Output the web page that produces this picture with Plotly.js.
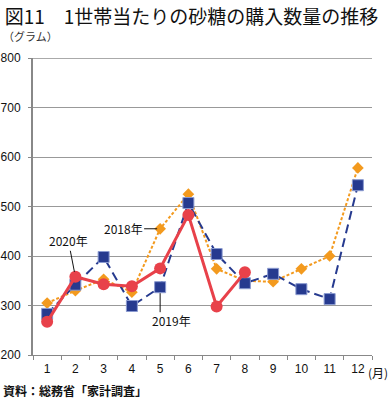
<!DOCTYPE html>
<html><head><meta charset="utf-8">
<script src="https://cdn.plot.ly/plotly-3.0.1.min.js"></script>
<style>html,body{margin:0;padding:0;background:#fff}#chart{width:390px;height:404px}</style>
</head><body><div id="chart"></div>
<script>
const months = ['1','2','3','4','5','6','7','8','9','10','11','12'];
const y2018 = [305, 330, 353, 327, 455, 525, 374, 350, 348, 374, 400, 578];
const y2019 = [283, 342, 398, 299, 337, 507, 404, 345, 364, 333, 313, 543];
const y2020 = [267, 358, 343, 339, 375, 483, 298, 367];
const yTicks = [200, 300, 400, 500, 600, 700, 800];

const JP = '"Noto Sans CJK JP", sans-serif';
const NUM = '"Liberation Sans", Arial, sans-serif';

// category index of the month where each label points
const i2018 = months.indexOf('5');
const i2019 = months.indexOf('5');
const i2020 = months.indexOf('2');

const traces = [
  {name:'2018年', x: months, y: y2018, type:'scatter', mode:'lines+markers',
   line:{color:'#f39a1e', width:2, dash:'3px,2px'},
   marker:{symbol:'diamond', size:9, color:'#f39a1e'}},
  {name:'2019年', x: months, y: y2019, type:'scatter', mode:'lines+markers',
   line:{color:'#263a8f', width:2, dash:'9px,5px'},
   marker:{symbol:'square', size:11, color:'#263a8f', line:{color:'#8a9ad0', width:1}}},
  {name:'2020年', x: months.slice(0, y2020.length), y: y2020, type:'scatter', mode:'lines+markers',
   line:{color:'#e8414a', width:3},
   marker:{symbol:'circle', size:12, color:'#e8414a'}}
];

const layout = {
  width:390, height:404,
  margin:{l:33, r:18, t:58, b:49},
  paper_bgcolor:'#fff', plot_bgcolor:'#fff',
  showlegend:false,
  title:{text:'図11　1世帯当たりの砂糖の購入数量の推移', font:{family:JP, size:19, color:'#111'},
         x:0.012, xanchor:'left', xref:'container', yref:'container', y:0.958, yanchor:'middle'},
  xaxis:{type:'category', range:[-0.5, 11.5], tickson:'boundaries', ticks:'outside', ticklen:4,
         tickcolor:'#888', showline:true, linecolor:'#888', linewidth:1, showgrid:false,
         tickfont:{family:NUM, size:12, color:'#111'}, ticklabelstandoff:3},
  yaxis:{range:[200, 800], tickvals:yTicks, ticks:'outside', ticklen:3, tickcolor:'#888',
         showline:true, linecolor:'#888', linewidth:2, showgrid:true, gridcolor:'#999', gridwidth:1,
         zeroline:false, tickfont:{family:NUM, size:12, color:'#111'}, ticklabelstandoff:5},
  annotations:[
    {xref:'paper', yref:'paper', x:-0.094, y:1.074, xanchor:'left', yanchor:'middle', showarrow:false,
     text:'（グラム）', font:{family:JP, size:11, color:'#333'}},
    {xref:'paper', yref:'paper', x:1.053, y:-0.06, xanchor:'right', yanchor:'middle', showarrow:false,
     text:'(月)', font:{family:JP, size:12, color:'#111'}},
    {xref:'paper', yref:'paper', x:-0.095, y:-0.118, xanchor:'left', yanchor:'middle', showarrow:false,
     text:'<b>資料：総務省「家計調査」</b>', font:{family:JP, size:12, color:'#111'}},
    {x: i2018, y: y2018[i2018], ax:-37, ay:0, showarrow:true, arrowhead:0, arrowwidth:1, arrowcolor:'#111',
     standoff:3, text:'2018年', font:{family:JP, size:12, color:'#111'}},
    {x: i2020, y: y2020[i2020], ax:-7, ay:-36, showarrow:true, arrowhead:0, arrowwidth:1, arrowcolor:'#111',
     standoff:5, text:'2020年', font:{family:JP, size:12, color:'#111'}},
    {x: i2019, y: y2019[i2019], xshift:11, yshift:-33, showarrow:false,
     text:'2019年', font:{family:JP, size:12, color:'#111'}}
  ],
  shapes:[
    {type:'line', xref:'x', yref:'y', xsizemode:'pixel', ysizemode:'pixel',
     xanchor: i2019, yanchor: y2019[i2019], x0:0, x1:0, y0:-6, y1:-25,
     line:{color:'#111', width:1}},
    {type:'line', xref:'paper', yref:'y', x0:0, x1:1, y0:800, y1:800, line:{color:'#aaa', width:2}, layer:'below'}
  ]
};
Plotly.newPlot('chart', traces, layout, {displayModeBar:false, staticPlot:true});
</script></body></html>
